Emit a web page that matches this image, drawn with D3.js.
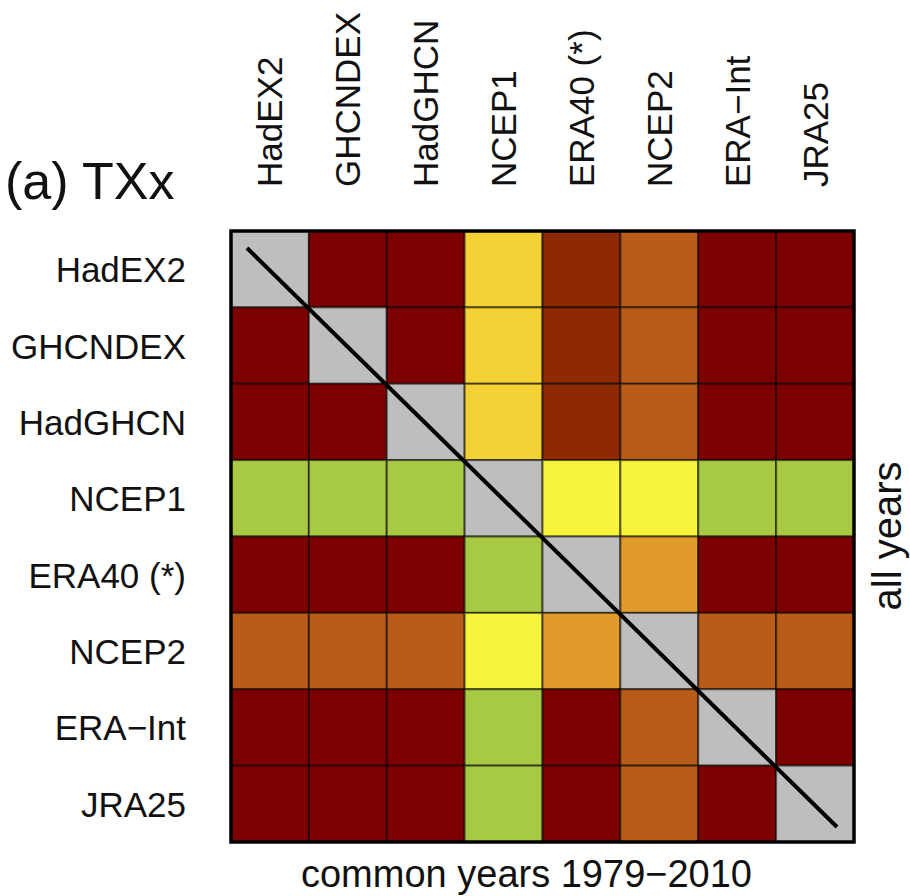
<!DOCTYPE html>
<html>
<head>
<meta charset="utf-8">
<script src="https://cdn.jsdelivr.net/npm/d3@7"></script>
<style>
  body { margin: 0; background: #fff; }
  text { font-family: "Liberation Sans", Arial, sans-serif; fill: #111; }
</style>
</head>
<body>
<script>
const m = {
  width: 910,
  height: 896
}

// datasets, same order for rows and columns
const datasets = ["HadEX2", "GHCNDEX", "HadGHCN", "NCEP1", "ERA40 (*)", "NCEP2", "ERA\u2212Int", "JRA25"];

// colour class of each cell (null = diagonal, same dataset)
// upper triangle: common years 1979-2010, lower triangle: all years
const levels = [
  [null, 6, 6, 2, 5, 4, 6, 6],
  [6, null, 6, 2, 5, 4, 6, 6],
  [6, 6, null, 2, 5, 4, 6, 6],
  [0, 0, 0, null, 1, 1, 0, 0],
  [6, 6, 6, 0, null, 3, 6, 6],
  [4, 4, 4, 1, 3, null, 4, 4],
  [6, 6, 6, 0, 6, 4, null, 6],
  [6, 6, 6, 0, 6, 4, 6, null]
];

const levelColors = ["#a8c944", "#f7f43c", "#f4d236", "#e29b2b", "#b75d18", "#8e2906", "#7d0000"];
const diagColor = "#bebebe";

const title = "(a) TXx";
const bottomLabel = "common years 1979\u22122010";
const rightLabel = "all years";

let svg = d3.select("body")
  .append("svg")
  .attr("width", m.width)
  .attr("height", m.height);

let x = d3.scaleBand()
  .domain(datasets)
  .range([231, 854]);

let y = d3.scaleBand()
  .domain(datasets)
  .range([231, 842]);

let color = d3.scaleOrdinal()
  .domain(d3.range(levelColors.length))
  .range(levelColors);

let cells = [];
levels.forEach((row, i) => {
  row.forEach((v, j) => {
    cells.push({ row: datasets[i], col: datasets[j], v: v });
  });
});

// Draw cells
svg.append('g')
  .selectAll('rect')
  .data(cells)
  .enter()
  .append('rect')
  .attr('x', d => x(d.col))
  .attr('y', d => y(d.row))
  .attr('width', x.bandwidth())
  .attr('height', y.bandwidth())
  .attr('fill', d => d.v === null ? diagColor : color(d.v))
  .attr('stroke', 'rgba(0,0,0,0.55)')
  .attr('stroke-width', 2);

// diagonal line
let [x0, x1] = x.range();
let [y0, y1] = y.range();
svg.append('line')
  .attr('x1', x0 + 16)
  .attr('y1', y0 + 17)
  .attr('x2', x1 - 17)
  .attr('y2', y1 - 15)
  .attr('stroke', '#000')
  .attr('stroke-width', 4);

// outer frame
svg.append('rect')
  .attr('x', x0)
  .attr('y', y0)
  .attr('width', x1 - x0)
  .attr('height', y1 - y0)
  .attr('fill', 'none')
  .attr('stroke', '#000')
  .attr('stroke-width', 3.5);

// row labels
svg.append('g')
  .selectAll('text')
  .data(datasets)
  .enter()
  .append('text')
  .attr('x', 186)
  .attr('y', d => y(d) + y.bandwidth() / 2 + 13)
  .attr('text-anchor', 'end')
  .attr('font-size', 35)
  .text(d => d);

// column labels
svg.append('g')
  .selectAll('text')
  .data(datasets)
  .enter()
  .append('text')
  .attr('text-anchor', 'start')
  .attr('font-size', 35)
  .attr('transform', d => `translate(${x(d) + x.bandwidth() / 2 + 12.5},187) rotate(-90)`)
  .text(d => d);

svg.append('text')
  .attr('x', 5)
  .attr('y', 199)
  .attr('font-size', 52)
  .text(title);

svg.append('text')
  .attr('x', (x0 + x1) / 2 - 16)
  .attr('y', 887)
  .attr('text-anchor', 'middle')
  .attr('font-size', 38)
  .text(bottomLabel);

svg.append('text')
  .attr('text-anchor', 'middle')
  .attr('font-size', 40)
  .attr('transform', `translate(901,536) rotate(-90)`)
  .text(rightLabel);
</script>
</body>
</html>
